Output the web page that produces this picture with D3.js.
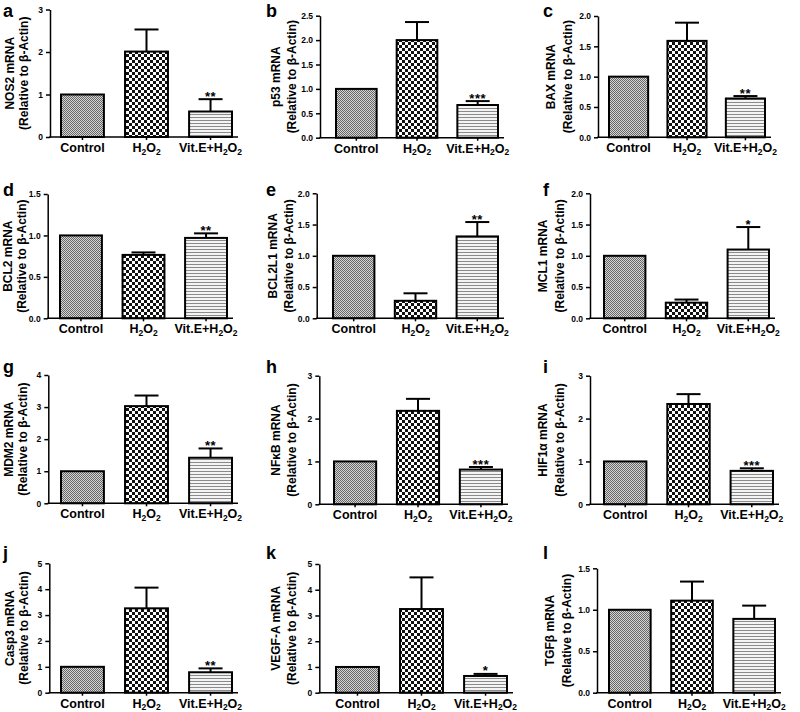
<!DOCTYPE html>
<html>
<head>
<meta charset="utf-8">
<script src="https://cdn.jsdelivr.net/npm/d3@7/dist/d3.min.js"></script>
<style>
  html, body { margin: 0; padding: 0; background: #fff; }
  svg { display: block; }
  text { font-family: "Liberation Sans", Arial, sans-serif; font-weight: bold; fill: #000; }
</style>
</head>
<body>
<svg id="chart" width="800" height="712"></svg>
<script>
// ---------------- data ----------------
const categories = ["Control", "H2O2", "Vit.E+H2O2"];
const panelLetters = ["a", "b", "c", "d", "e", "f", "g", "h", "i", "j", "k", "l"];
const genes = ["NOS2", "p53", "BAX", "BCL2", "BCL2L1", "MCL1", "MDM2", "NFκB", "HIF1α", "Casp3", "VEGF-A", "TGFβ"];
const controlValues = [1, 1, 1, 1, 1, 1, 1, 1, 1, 1, 1, 1];
const h2o2Values = [2.01, 2.0, 1.59, 0.765, 0.28, 0.25, 3.03, 2.18, 2.34, 3.26, 3.25, 1.11];
const h2o2Errors = [0.52, 0.37, 0.30, 0.03, 0.12, 0.05, 0.33, 0.28, 0.23, 0.80, 1.23, 0.23];
const vitValues = [0.60, 0.67, 0.64, 0.97, 1.31, 1.10, 1.42, 0.81, 0.78, 0.79, 0.65, 0.89];
const vitErrors = [0.29, 0.08, 0.04, 0.055, 0.23, 0.36, 0.29, 0.06, 0.06, 0.15, 0.08, 0.16];
const significance = ["**", "***", "**", "**", "**", "*", "**", "***", "***", "**", "*", ""];
const yMaxValues = [3, 2.5, 2.0, 1.5, 2.0, 2.0, 4, 3, 3, 5, 5, 1.5];
const yTickSteps = [1, 0.5, 0.5, 0.5, 0.5, 0.5, 1, 1, 1, 1, 1, 0.5];
const yAxisSubtitle = "(Relative to β-Actin)";

// ---------------- layout (pixels) ----------------
const layout = [
  { axisX: 50,    x0: 61,  x1: 232, top: 9.5,   zero: 137.0 },
  { axisX: 320,   x0: 336, x1: 498, top: 15.7,  zero: 137.7 },
  { axisX: 598,   x0: 609, x1: 765, top: 16.0,  zero: 137.3 },
  { axisX: 47.7,  x0: 60,  x1: 227, top: 194.0, zero: 318.3 },
  { axisX: 316.7, x0: 333, x1: 498, top: 193.3, zero: 318.3 },
  { axisX: 590,   x0: 604, x1: 769, top: 193.3, zero: 318.3 },
  { axisX: 48.3,  x0: 61,  x1: 232, top: 375.0, zero: 503.3 },
  { axisX: 319.3, x0: 334, x1: 502, top: 375.7, zero: 504.3 },
  { axisX: 590,   x0: 604, x1: 773, top: 375.7, zero: 504.3 },
  { axisX: 49.3,  x0: 61,  x1: 232, top: 563.3, zero: 692.7 },
  { axisX: 319.3, x0: 336, x1: 507, top: 564.0, zero: 692.7 },
  { axisX: 597,   x0: 609, x1: 775, top: 568.3, zero: 692.7 }
];
// y-title baseline offsets (left of axis) per column: [line1, line2]
const titleOffsets = [[35.7, 21.7], [39.7, 23.7], [42.7, 25.7]];
const letterX = [3, 266, 543];
const letterY = [17, 196, 373, 559];

const svg = d3.select("#chart");
const defs = svg.append("defs");

// Control: fine grey dither
const pC = defs.append("pattern").attr("id", "patControl").attr("patternUnits", "userSpaceOnUse")
  .attr("width", 2).attr("height", 2);
pC.append("rect").attr("width", 2).attr("height", 2).attr("fill", "#d6d6d6");
pC.append("rect").attr("x", 0).attr("y", 0).attr("width", 1).attr("height", 1).attr("fill", "#666");
pC.append("rect").attr("x", 1).attr("y", 1).attr("width", 1).attr("height", 1).attr("fill", "#666");

// H2O2: coarse checkerboard
const pH = defs.append("pattern").attr("id", "patH2O2").attr("patternUnits", "userSpaceOnUse")
  .attr("width", 6).attr("height", 6);
pH.append("rect").attr("width", 6).attr("height", 6).attr("fill", "#fff");
pH.append("rect").attr("x", 0).attr("y", 0).attr("width", 3).attr("height", 3).attr("fill", "#111");
pH.append("rect").attr("x", 3).attr("y", 3).attr("width", 3).attr("height", 3).attr("fill", "#111");

// Vit.E: horizontal lines
const pV = defs.append("pattern").attr("id", "patVit").attr("patternUnits", "userSpaceOnUse")
  .attr("width", 4).attr("height", 3);
pV.append("rect").attr("width", 4).attr("height", 3).attr("fill", "#f4f4f4");
pV.append("rect").attr("x", 0).attr("y", 0).attr("width", 4).attr("height", 1).attr("fill", "#8a8a8a");

const fills = ["url(#patControl)", "url(#patH2O2)", "url(#patVit)"];

function addCategoryLabel(sel, name) {
  // digits in category names are chemical subscripts
  const parts = name.split(/(\d)/).filter(s => s.length);
  let sub = false;
  parts.forEach(p => {
    const isDigit = /^\d$/.test(p);
    const t = sel.append("tspan").text(p);
    if (isDigit && !sub) { t.attr("dy", 2.5).attr("font-size", 8.5); sub = true; }
    else if (!isDigit && sub) { t.attr("dy", -2.5); sub = false; }
    else if (isDigit) { t.attr("font-size", 8.5); }
  });
}

genes.forEach((gene, i) => {
  const L = layout[i];
  const col = i % 3;
  const g = svg.append("g");
  const values = [controlValues[i], h2o2Values[i], vitValues[i]];
  const errors = [0, h2o2Errors[i], vitErrors[i]];

  const x = d3.scaleBand().domain(categories).range([L.x0, L.x1]).paddingInner(0.33).paddingOuter(0);
  const y = d3.scaleLinear().domain([0, yMaxValues[i]]).range([L.zero, L.top]);
  const step = yTickSteps[i];
  const ticks = d3.range(0, yMaxValues[i] + step / 2, step);
  const fmt = step < 1 ? d3.format(".1f") : d3.format("d");

  // bars
  g.selectAll("rect.bar").data(categories).join("rect")
    .attr("class", "bar")
    .attr("x", d => x(d))
    .attr("width", x.bandwidth())
    .attr("y", (d, k) => y(values[k]))
    .attr("height", (d, k) => y(0) - y(values[k]))
    .attr("fill", (d, k) => fills[k])
    .attr("stroke", "#000").attr("stroke-width", 2);

  // error bars (upper)
  const capW = 24;
  categories.forEach((c, k) => {
    if (!errors[k]) return;
    const cx = x(c) + x.bandwidth() / 2;
    g.append("line").attr("x1", cx).attr("x2", cx)
      .attr("y1", y(values[k])).attr("y2", y(values[k] + errors[k]))
      .attr("stroke", "#000").attr("stroke-width", 2);
    g.append("line").attr("x1", cx - capW / 2).attr("x2", cx + capW / 2)
      .attr("y1", y(values[k] + errors[k])).attr("y2", y(values[k] + errors[k]))
      .attr("stroke", "#000").attr("stroke-width", 2);
  });

  // significance on Vit.E bar
  if (significance[i]) {
    const c = categories[2];
    g.append("text")
      .attr("x", x(c) + x.bandwidth() / 2)
      .attr("y", y(values[2] + errors[2]) + 1.5)
      .attr("text-anchor", "middle")
      .attr("font-size", 13)
      .attr("letter-spacing", 0.5)
      .text(significance[i]);
  }

  // y axis
  const yAxis = d3.axisLeft(y).tickValues(ticks).tickFormat(fmt).tickSize(4).tickSizeOuter(0).tickPadding(3);
  const ya = g.append("g").attr("transform", `translate(${L.axisX},0)`).call(yAxis);
  ya.select(".domain").attr("stroke", "#000").attr("stroke-width", 1.5);
  ya.selectAll(".tick line").attr("stroke", "#000").attr("stroke-width", 1.5);
  ya.selectAll(".tick text").attr("font-size", 8.5).attr("font-weight", "bold")
    .attr("font-family", "Liberation Sans, Arial, sans-serif").attr("fill", "#000");

  // x axis baseline
  g.append("line").attr("x1", L.axisX - 0.75).attr("x2", L.x1 + 6)
    .attr("y1", y(0)).attr("y2", y(0)).attr("stroke", "#000").attr("stroke-width", 1.5);
  const xAxis = d3.axisBottom(x).tickSize(3).tickSizeOuter(0).tickFormat("");
  const xa = g.append("g").attr("transform", `translate(0,${y(0)})`).call(xAxis);
  xa.select(".domain").remove();
  xa.selectAll(".tick line").attr("stroke", "#000").attr("stroke-width", 1.5);

  categories.forEach(c => {
    const t = g.append("text")
      .attr("x", x(c) + x.bandwidth() / 2)
      .attr("y", y(0) + 15)
      .attr("text-anchor", "middle")
      .attr("font-size", 12.5);
    addCategoryLabel(t, c);
  });

  // y axis title (two lines)
  const cy = (L.top + L.zero) / 2;
  g.append("text")
    .attr("transform", `translate(${L.axisX - titleOffsets[col][0]},${cy}) rotate(-90)`)
    .attr("text-anchor", "middle").attr("font-size", 12)
    .text(gene + " mRNA");
  g.append("text")
    .attr("transform", `translate(${L.axisX - titleOffsets[col][1]},${cy}) rotate(-90)`)
    .attr("text-anchor", "middle").attr("font-size", 12)
    .text(yAxisSubtitle);

  // panel letter
  svg.append("text")
    .attr("x", letterX[col]).attr("y", letterY[Math.floor(i / 3)])
    .attr("font-size", 18)
    .text(panelLetters[i]);
});
</script>
</body>
</html>
